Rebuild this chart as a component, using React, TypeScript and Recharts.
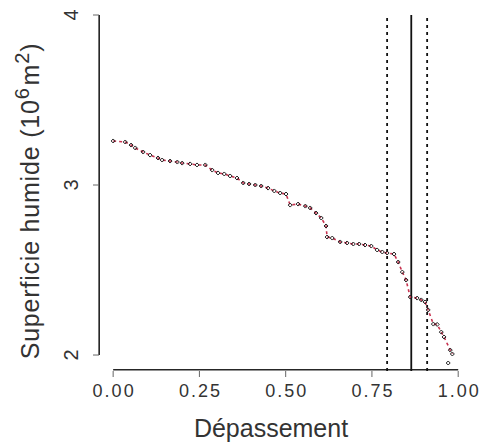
import {
  ComposedChart,
  Line,
  Scatter,
  XAxis,
  YAxis,
  ReferenceLine,
  ReferenceArea,
  Label,
} from "recharts";

// exceedance probability (x) and wet surface in 10^6 m² (y)
const depassement = [
  0.0, 0.035, 0.052, 0.064, 0.087, 0.107, 0.13, 0.142, 0.165, 0.186, 0.2,
  0.223, 0.243, 0.267, 0.287, 0.304, 0.322, 0.339, 0.359, 0.377, 0.394,
  0.412, 0.429, 0.449, 0.467, 0.484, 0.501, 0.513, 0.536, 0.557, 0.571,
  0.588, 0.603, 0.617, 0.62, 0.635, 0.658, 0.678, 0.696, 0.713, 0.73, 0.748,
  0.765, 0.78, 0.794, 0.814, 0.826, 0.838, 0.849, 0.861, 0.881, 0.893,
  0.904, 0.913, 0.928, 0.939, 0.951, 0.959, 0.977, 0.983, 0.971,
];
const superficie = [
  3.259, 3.253, 3.235, 3.218, 3.194, 3.176, 3.159, 3.147, 3.141, 3.135, 3.129,
  3.124, 3.118, 3.118, 3.088, 3.071, 3.065, 3.053, 3.041, 3.012, 3.006, 3.0,
  2.994, 2.982, 2.965, 2.953, 2.947, 2.882, 2.888, 2.876, 2.865, 2.835,
  2.806, 2.759, 2.694, 2.688, 2.665, 2.659, 2.653, 2.653, 2.647, 2.641,
  2.618, 2.606, 2.6, 2.594, 2.547, 2.488, 2.441, 2.341, 2.335, 2.324, 2.312,
  2.265, 2.182, 2.18, 2.135, 2.106, 2.029, 2.006, 1.953,
];
// last observation is drawn as a point only, the red curve stops before it
const nCourbe = 60;

const seuilBas = 0.794;
const seuil = 0.864;
const seuilHaut = 0.91;

const xTicks = [0, 0.25, 0.5, 0.75, 1];
const yTicks = [2, 3, 4];

const xDomain = [-0.041, 1.04];
const yDomain = [1.906, 4];

const points = depassement.map((x, i) => ({ x, y: superficie[i] }));
const courbe = points.slice(0, nCourbe);

const FONT = "'Liberation Sans', Arial, sans-serif";

const XTick = ({ x, y, payload }: any) => (
  <text
    x={x + 1}
    y={y + 18}
    textAnchor="middle"
    fontSize={18}
    fontFamily={FONT}
    fill="#333"
    letterSpacing={2}
  >
    {Number(payload.value).toFixed(2)}
  </text>
);

const YTick = ({ x, y, payload }: any) => (
  <text
    x={x - 13}
    y={y}
    transform={`rotate(-90, ${x - 13}, ${y})`}
    textAnchor="middle"
    fontSize={20}
    fontFamily={FONT}
    fill="#333"
  >
    {payload.value}
  </text>
);

const Marker = ({ cx, cy }: any) => (
  <path
    d={`M${cx},${cy - 2}L${cx + 2},${cy}L${cx},${cy + 2}L${cx - 2},${cy}Z`}
    fill="none"
    stroke="#222"
    strokeWidth={1}
  />
);

export default function App() {
  return (
    <div style={{ position: "absolute", left: 0, top: 0, background: "#fff" }}>
      <ComposedChart
        width={482}
        height={446}
        margin={{ top: 15, right: 10, bottom: 0, left: 0 }}
      >
        <XAxis
          type="number"
          dataKey="x"
          domain={xDomain}
          ticks={xTicks}
          height={75}
          axisLine={false}
          tick={<XTick />}
        />
        <YAxis
          type="number"
          dataKey="y"
          domain={yDomain}
          ticks={yTicks}
          width={99}
          axisLine={false}
          tick={<YTick />}
        />
        {/* R style axes: lines only run between the first and last ticks */}
        <ReferenceArea
          x1={xTicks[0]}
          x2={xTicks[xTicks.length - 1]}
          y1={1.909}
          y2={1.918}
          fill="black"
          fillOpacity={0.85}
          ifOverflow="visible"
        />
        <ReferenceLine
          segment={[
            { x: xDomain[0] + 0.0005, y: yTicks[0] },
            { x: xDomain[0] + 0.0005, y: yTicks[yTicks.length - 1] },
          ]}
          stroke="#222"
          strokeWidth={1.6}
          ifOverflow="visible"
        />
        <ReferenceLine x={seuilBas} stroke="#111" strokeWidth={1.8} strokeDasharray="3 4" />
        <ReferenceLine x={seuil} stroke="#111" strokeWidth={1.8} />
        <ReferenceLine x={seuilHaut} stroke="#111" strokeWidth={1.8} strokeDasharray="3 4" />
        <Line
          data={courbe}
          dataKey="y"
          type="linear"
          stroke="#c8324f"
          strokeWidth={1.6}
          strokeDasharray="3 3"
          dot={false}
          isAnimationActive={false}
        />
        <Scatter data={points} shape={<Marker />} isAnimationActive={false} />
        <text x={271} y={437} textAnchor="middle" fontSize={25} fontFamily={FONT} fill="#333">
          Dépassement
        </text>
        <text
          x={39}
          y={201}
          transform="rotate(-90, 39, 201)"
          textAnchor="middle"
          fontSize={25}
          fontFamily={FONT}
          fill="#333"
          letterSpacing={0.8}
        >
          Superficie humide (10
          <tspan dy={-10} fontSize={20}>6</tspan>
          <tspan dy={10} dx={2}>m</tspan>
          <tspan dy={-10} fontSize={20}>2</tspan>
          <tspan dy={10}>)</tspan>
        </text>
      </ComposedChart>
    </div>
  );
}
